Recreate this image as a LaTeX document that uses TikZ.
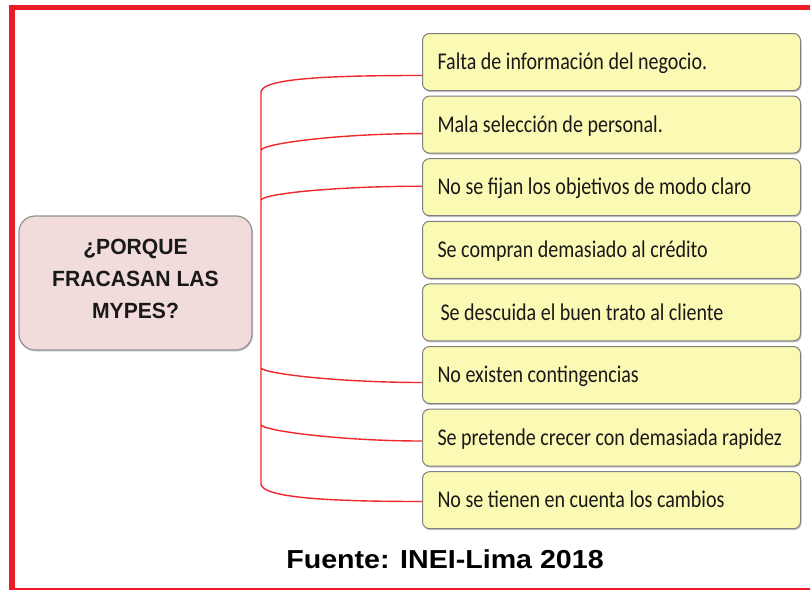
\documentclass[tikz,border=0pt]{standalone}
\usepackage{fontspec}
\setmainfont{Carlito}
\newfontfamily\boxfont{Carlito}[FakeStretch=0.835]
\newfontfamily\headfont{Liberation Sans Bold}[FakeStretch=0.96]
\newfontfamily\srcfont{Liberation Sans Bold}[FakeStretch=1.1]
\newcommand\causetext[1]{\makebox[348pt][l]{#1}}
\usetikzlibrary{shadows,calc}
\definecolor{framered}{HTML}{ED1C24}
\definecolor{linkred}{HTML}{F0282E}
\definecolor{boxfill}{HTML}{FAFAB4}
\definecolor{qfill}{HTML}{F2DCDB}
\definecolor{edgegray}{HTML}{7F7F7F}
\tikzset{
  cause/.style={draw=edgegray, line width=1pt, fill=boxfill, rounded corners=7pt,
    minimum height=57pt, anchor=north west,
    inner xsep=15pt, font=\boxfont\fontsize{24}{28}\selectfont,
    text height=15.5pt, text depth=0pt, text=black!90,
    drop shadow={shadow xshift=1pt, shadow yshift=-1.5pt, opacity=0.45, fill=gray}},
  qbox/.style={draw=edgegray!85, line width=1.2pt, fill=qfill, rounded corners=16pt,
    minimum width=233pt, minimum height=134pt,
    drop shadow={shadow xshift=1pt, shadow yshift=-1.5pt, opacity=0.35, fill=gray}},
  link/.style={draw=linkred, line width=1.4pt},
}
\begin{document}
\begin{tikzpicture}[x=1pt,y=-1pt]
\useasboundingbox (0,0) rectangle (810,589);
\clip (0,0) rectangle (810,589);
\fill[white] (0,0) rectangle (810,589);
\draw[framered, line width=5.5pt] (12,7.5) rectangle (840,590.8);

% question box
\node[qbox] (q) at (135.5,283) {};
\node[font=\headfont\fontsize{22}{32.4}\selectfont, align=center, anchor=north, inner sep=0pt, text=black!90] (qt) at (135.5,238.5) {¿PORQUE\\FRACASAN LAS\\MYPES?};

% cause boxes
\node[cause] (b1) at (422,33) {\causetext{Falta de información del negocio.}};
\node[cause] (b2) at (422,95.6) {\causetext{Mala selección de personal.}};
\node[cause] (b3) at (422,158.2) {\causetext{No se fijan los objetivos de modo claro}};
\node[cause] (b4) at (422,220.8) {\causetext{Se compran demasiado al crédito}};
\node[cause] (b5) at (422,283.4) {\causetext{\hspace{3pt}Se descuida el buen trato al cliente}};
\node[cause] (b6) at (422,346) {\causetext{No existen contingencias}};
\node[cause] (b7) at (422,408.6) {\causetext{Se pretende crecer con demasiada rapidez}};
\node[cause] (b8) at (422,471.2) {\causetext{No se tienen en cuenta los cambios}};

% connection points
\coordinate (c1) at ($(b1.west)+(0,13.5)$);
\coordinate (c2) at ($(b2.west)+(0,9)$);
\coordinate (c3) at ($(b3.west)+(0,-1)$);
\coordinate (c6) at ($(b6.west)+(0,7.5)$);
\coordinate (c7) at ($(b7.west)+(0,3.4)$);
\coordinate (c8) at ($(b8.west)+(0,1.3)$);
\coordinate (t1) at (261,92);
\coordinate (t2) at (261,150);
\coordinate (t3) at (261,200);
\coordinate (t6) at (261,368);
\coordinate (t7) at (261,425);
\coordinate (t8) at (261,484);

\draw[link] (c1) .. controls +(-90,0) and +(1,-14) .. (t1) -- (t8) .. controls +(1,14) and +(-90,0) .. (c8);
\draw[link] (t2) .. controls +(4,-7) and +(-80,0) .. (c2);
\draw[link] (t3) .. controls +(4,-7) and +(-80,0) .. (c3);
\draw[link] (t6) .. controls +(4,6) and +(-80,0) .. (c6);
\draw[link] (t7) .. controls +(4,6) and +(-80,0) .. (c7);

\node[font=\srcfont\fontsize{26}{30}\selectfont, anchor=base, text=black] (src) at (445,568.3) {Fuente: INEI-Lima 2018};
\end{tikzpicture}
\end{document}
